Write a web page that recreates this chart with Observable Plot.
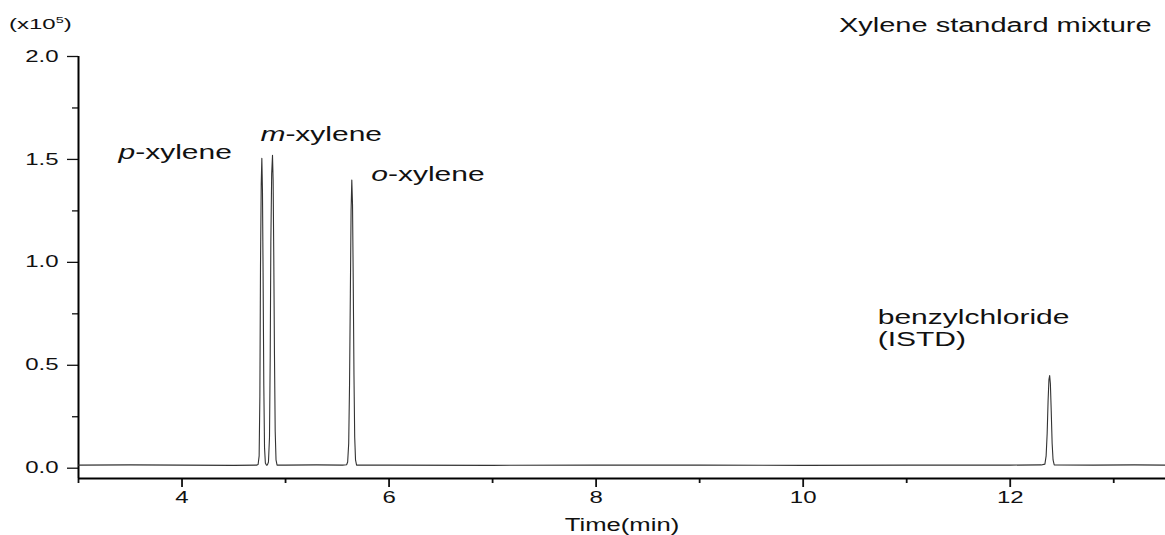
<!DOCTYPE html>
<html><head><meta charset="utf-8">
<script src="https://cdn.jsdelivr.net/npm/d3@7"></script>
<script src="https://cdn.jsdelivr.net/npm/@observablehq/plot@0.6"></script>
<style>
body{margin:0;background:#fff;}
#wrap{position:relative;width:1165px;height:535px;font-family:"Liberation Sans",Arial,sans-serif;color:#111;}
#title{position:absolute;right:13px;top:14px;font-size:20px;transform:scaleX(1.45);transform-origin:right center;white-space:nowrap;}
#unit{position:absolute;left:9px;top:15px;font-size:15px;transform:scaleX(1.6);transform-origin:left center;white-space:nowrap;}
#unit sup{font-size:9px;vertical-align:6px;line-height:0;}
</style></head><body>
<div id="wrap"><div id="title">Xylene standard mixture</div><div id="unit">(x10<sup>5</sup>)</div></div>
<script>
// ---- data (intensity in units of 10^5, time in min) ----
const times = [
  3.00, 3.50, 4.00, 4.50, 4.72,
  4.735, 4.745, 4.752, 4.758, 4.765, 4.771, 4.777, 4.783, 4.790, 4.797, 4.805, 4.815, 4.825,
  4.835, 4.845, 4.852, 4.858, 4.866, 4.874, 4.880, 4.886, 4.893, 4.900, 4.908, 4.918,
  5.00, 5.30, 5.55, 5.59,
  5.600, 5.610, 5.618, 5.626, 5.633, 5.640, 5.647, 5.654, 5.661, 5.668, 5.676, 5.686,
  6.00, 7.00, 8.00, 9.00, 10.00, 11.00, 12.00, 12.30,
  12.335, 12.347, 12.357, 12.366, 12.374, 12.381, 12.388, 12.396, 12.405, 12.414, 12.425,
  12.80, 13.20, 13.50
];
const intensities = [
  0.015, 0.016, 0.015, 0.014, 0.015,
  0.018, 0.06, 0.35, 0.98, 1.38, 1.505, 1.35, 0.95, 0.40, 0.10, 0.025, 0.015, 0.016,
  0.03, 0.15, 0.55, 1.10, 1.43, 1.52, 1.40, 1.05, 0.55, 0.18, 0.04, 0.015,
  0.015, 0.016, 0.015, 0.017,
  0.03, 0.12, 0.40, 0.85, 1.25, 1.40, 1.28, 0.90, 0.45, 0.15, 0.04, 0.015,
  0.015, 0.014, 0.015, 0.015, 0.014, 0.015, 0.015, 0.016,
  0.02, 0.06, 0.17, 0.33, 0.43, 0.45, 0.41, 0.28, 0.12, 0.04, 0.016,
  0.015, 0.016, 0.015
];
const labelTexts = ["p-xylene", "m-xylene", "o-xylene", "benzylchloride", "(ISTD)"];
const labelItalicChars = [1, 1, 1, 0, 0];
const labelTimes = [3.386, 4.757, 5.828, 10.72, 10.72];
const labelValues = [1.531, 1.623, 1.424, 0.730, 0.623];
const xDomain = [3, 13.5];
const yDomain = [-0.05, 2.0];
const xMajorTicks = [4, 6, 8, 10, 12];
const xMinorTicks = [3, 5, 7, 9, 11, 13];
const yMajorTicks = [0, 0.5, 1.0, 1.5, 2.0];
const yMinorTicks = [0.25, 0.75, 1.25, 1.75];

const chrom = times.map((t, i) => ({time: t, value: intensities[i]}));
const labels = labelTexts.map((s, i) => ({text: s, time: labelTimes[i], value: labelValues[i], italic: labelItalicChars[i]}));

const plot = Plot.plot({
  width: 1165, height: 535,
  marginTop: 56, marginBottom: 57, marginLeft: 78, marginRight: 0,
  style: {fontFamily: "'Liberation Sans', Arial, sans-serif", fontSize: "16px", color: "#111", background: "transparent"},
  x: {domain: xDomain},
  y: {domain: yDomain},
  marks: [
    Plot.axisY({ticks: yMajorTicks, tickFormat: d3.format(".1f"), tickSize: 11, tickPadding: 9, label: null, strokeWidth: 1.3, fontSize: 16}),
    Plot.axisY({ticks: yMinorTicks, tickFormat: () => "", tickSize: 6, label: null, strokeWidth: 1.3}),
    Plot.axisX({ticks: xMajorTicks, tickSize: 9, tickPadding: 4, label: "Time(min)", labelAnchor: "center", labelArrow: "none", labelOffset: 52, strokeWidth: 1.8, fontSize: 16}),
    Plot.axisX({ticks: xMinorTicks, tickFormat: () => "", tickSize: 5, label: null, strokeWidth: 1.8}),
    Plot.ruleX([xDomain[0]], {stroke: "#000", strokeWidth: 2}),
    Plot.ruleY([yDomain[0]], {stroke: "#000", strokeWidth: 2}),
    Plot.line(chrom, {x: "time", y: "value", stroke: "#333", strokeWidth: 1.1}),
    Plot.text(labels, {x: "time", y: "value", text: "text", textAnchor: "start", fontSize: 20, fill: "#111"})
  ]
});
document.getElementById("wrap").appendChild(plot);

// italic prefixes for the isomer labels
const annoTexts = plot.querySelectorAll('g[aria-label="text"] text');
annoTexts.forEach((t, i) => {
  const d = labels[i];
  if (!d || !d.italic) return;
  const s = t.textContent;
  t.textContent = "";
  const a = document.createElementNS("http://www.w3.org/2000/svg", "tspan");
  a.setAttribute("font-style", "italic");
  a.textContent = s.slice(0, d.italic);
  const b = document.createElementNS("http://www.w3.org/2000/svg", "tspan");
  b.textContent = s.slice(d.italic);
  t.appendChild(a); t.appendChild(b);
});
const xl = plot.querySelector('g[aria-label="x-axis label"]');
if (xl) xl.setAttribute("font-size", "19");

// horizontal stretch (about each text's anchor point) to match the reference's wide lettering
function stretch(sel, k) {
  plot.querySelectorAll(sel).forEach(t => {
    if (!t.textContent) return;
    const tr = t.getAttribute("transform") || "";
    const x = parseFloat(t.getAttribute("x")) || 0;
    t.setAttribute("transform", (tr + ` translate(${x},0) scale(${k},1) translate(${-x},0)`).trim());
  });
}
stretch('g[aria-label="y-axis tick label"] text', 1.5);
stretch('g[aria-label="x-axis tick label"] text', 1.5);
stretch('g[aria-label="x-axis label"] text', 1.35);
stretch('g[aria-label="text"] text', 1.5);
</script>
</body></html>
